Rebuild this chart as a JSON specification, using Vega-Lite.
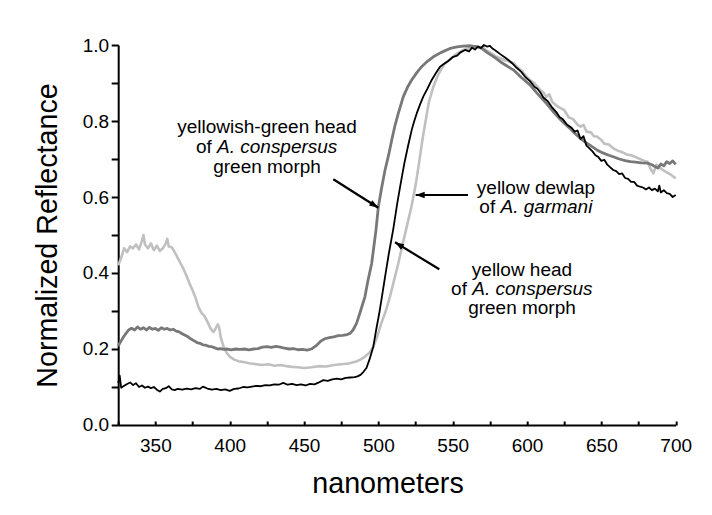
{
  "$schema": "https://vega.github.io/schema/vega-lite/v6.json",
  "width": 557.5,
  "height": 380,
  "autosize": {"type": "none"},
  "padding": {"left": 118.2, "top": 45, "right": 36, "bottom": 90},
  "background": "white",
  "config": {
    "view": {"stroke": null},
    "font": "Liberation Sans",
    "axis": {
      "grid": false,
      "domainColor": "black",
      "domainWidth": 2,
      "tickColor": "black",
      "tickWidth": 2,
      "labelFont": "Liberation Sans",
      "labelFontSize": 19,
      "labelColor": "black",
      "titleFont": "Liberation Sans",
      "titleFontSize": 28.7,
      "titleFontWeight": "normal",
      "titleColor": "black"
    }
  },
  "datasets": {
    "garmani": [
      {"nm":325,"r":0.42},{"nm":327,"r":0.44},{"nm":329,"r":0.465},{"nm":331,"r":0.455},{"nm":333,"r":0.47},{"nm":335,"r":0.465},{"nm":337,"r":0.475},{"nm":339,"r":0.462},{"nm":341,"r":0.485},{"nm":342,"r":0.5},{"nm":343,"r":0.475},{"nm":345,"r":0.465},{"nm":347,"r":0.478},{"nm":349,"r":0.46},{"nm":351,"r":0.472},{"nm":353,"r":0.458},{"nm":355,"r":0.465},{"nm":357,"r":0.478},{"nm":358,"r":0.49},{"nm":359,"r":0.47},{"nm":361,"r":0.468},{"nm":363,"r":0.455},{"nm":365,"r":0.44},{"nm":367,"r":0.425},{"nm":369,"r":0.41},{"nm":371,"r":0.392},{"nm":373,"r":0.372},{"nm":375,"r":0.355},{"nm":377,"r":0.335},{"nm":379,"r":0.31},{"nm":381,"r":0.295},{"nm":383,"r":0.287},{"nm":385,"r":0.272},{"nm":387,"r":0.255},{"nm":389,"r":0.245},{"nm":390,"r":0.25},{"nm":392,"r":0.265},{"nm":393,"r":0.255},{"nm":394,"r":0.23},{"nm":396,"r":0.205},{"nm":398,"r":0.19},{"nm":400,"r":0.18},{"nm":403,"r":0.172},{"nm":406,"r":0.168},{"nm":410,"r":0.165},{"nm":414,"r":0.162},{"nm":418,"r":0.16},{"nm":422,"r":0.158},{"nm":426,"r":0.16},{"nm":430,"r":0.156},{"nm":434,"r":0.158},{"nm":438,"r":0.155},{"nm":442,"r":0.153},{"nm":446,"r":0.152},{"nm":450,"r":0.15},{"nm":455,"r":0.152},{"nm":460,"r":0.155},{"nm":465,"r":0.154},{"nm":470,"r":0.158},{"nm":475,"r":0.16},{"nm":480,"r":0.162},{"nm":485,"r":0.167},{"nm":488,"r":0.172},{"nm":491,"r":0.18},{"nm":494,"r":0.19},{"nm":496.6,"r":0.206},{"nm":499,"r":0.23},{"nm":502,"r":0.268},{"nm":505,"r":0.3},{"nm":507.8,"r":0.338},{"nm":510.5,"r":0.38},{"nm":513.4,"r":0.425},{"nm":516,"r":0.47},{"nm":519,"r":0.52},{"nm":522,"r":0.57},{"nm":525,"r":0.63},{"nm":527,"r":0.68},{"nm":530,"r":0.76},{"nm":534,"r":0.85},{"nm":537,"r":0.89},{"nm":540,"r":0.92},{"nm":544,"r":0.948},{"nm":548,"r":0.962},{"nm":552,"r":0.975},{"nm":557,"r":0.987},{"nm":562,"r":0.993},{"nm":566,"r":0.996},{"nm":570,"r":0.994},{"nm":573,"r":0.985},{"nm":576,"r":0.978},{"nm":579,"r":0.97},{"nm":582,"r":0.965},{"nm":585,"r":0.96},{"nm":588,"r":0.957},{"nm":591,"r":0.952},{"nm":594,"r":0.94},{"nm":597,"r":0.93},{"nm":600,"r":0.915},{"nm":602,"r":0.908},{"nm":605,"r":0.9},{"nm":608,"r":0.885},{"nm":611,"r":0.875},{"nm":613,"r":0.864},{"nm":615,"r":0.87},{"nm":617,"r":0.85},{"nm":620,"r":0.84},{"nm":622,"r":0.835},{"nm":625,"r":0.829},{"nm":628,"r":0.81},{"nm":631,"r":0.805},{"nm":634,"r":0.79},{"nm":636,"r":0.785},{"nm":638,"r":0.79},{"nm":640,"r":0.772},{"nm":643,"r":0.77},{"nm":645,"r":0.76},{"nm":647,"r":0.759},{"nm":650,"r":0.75},{"nm":652,"r":0.74},{"nm":655,"r":0.738},{"nm":658,"r":0.728},{"nm":661,"r":0.722},{"nm":664,"r":0.718},{"nm":667,"r":0.712},{"nm":670,"r":0.71},{"nm":673,"r":0.705},{"nm":676,"r":0.7},{"nm":679,"r":0.695},{"nm":681,"r":0.693},{"nm":683,"r":0.675},{"nm":685,"r":0.662},{"nm":687,"r":0.685},{"nm":689,"r":0.678},{"nm":691,"r":0.672},{"nm":694,"r":0.665},{"nm":697,"r":0.658},{"nm":700,"r":0.649}
    ],
    "ygHead": [
      {"nm":325,"r":0.208},{"nm":326,"r":0.215},{"nm":328,"r":0.228},{"nm":330,"r":0.24},{"nm":332,"r":0.25},{"nm":334,"r":0.255},{"nm":336,"r":0.25},{"nm":338,"r":0.258},{"nm":340,"r":0.252},{"nm":342,"r":0.256},{"nm":344,"r":0.25},{"nm":346,"r":0.257},{"nm":348,"r":0.252},{"nm":350,"r":0.254},{"nm":352,"r":0.249},{"nm":354,"r":0.256},{"nm":356,"r":0.252},{"nm":358,"r":0.254},{"nm":360,"r":0.25},{"nm":362,"r":0.252},{"nm":364,"r":0.247},{"nm":366,"r":0.245},{"nm":368,"r":0.24},{"nm":370,"r":0.236},{"nm":372,"r":0.232},{"nm":374,"r":0.226},{"nm":376,"r":0.222},{"nm":378,"r":0.217},{"nm":380,"r":0.215},{"nm":382,"r":0.211},{"nm":384,"r":0.21},{"nm":386,"r":0.207},{"nm":388,"r":0.206},{"nm":390,"r":0.203},{"nm":392,"r":0.2},{"nm":394,"r":0.201},{"nm":396,"r":0.199},{"nm":398,"r":0.2},{"nm":401,"r":0.198},{"nm":404,"r":0.2},{"nm":407,"r":0.199},{"nm":410,"r":0.2},{"nm":413,"r":0.198},{"nm":416,"r":0.2},{"nm":419,"r":0.201},{"nm":422,"r":0.205},{"nm":425,"r":0.206},{"nm":428,"r":0.204},{"nm":431,"r":0.207},{"nm":434,"r":0.205},{"nm":437,"r":0.202},{"nm":440,"r":0.2},{"nm":443,"r":0.201},{"nm":446,"r":0.198},{"nm":449,"r":0.199},{"nm":452,"r":0.197},{"nm":455,"r":0.2},{"nm":458,"r":0.208},{"nm":461,"r":0.22},{"nm":464,"r":0.227},{"nm":467,"r":0.23},{"nm":470,"r":0.232},{"nm":473,"r":0.235},{"nm":476,"r":0.236},{"nm":479,"r":0.238},{"nm":481,"r":0.241},{"nm":483,"r":0.25},{"nm":485.4,"r":0.268},{"nm":488,"r":0.3},{"nm":491,"r":0.338},{"nm":493,"r":0.38},{"nm":495.5,"r":0.425},{"nm":498.4,"r":0.513},{"nm":500,"r":0.574},{"nm":502,"r":0.62},{"nm":504.5,"r":0.671},{"nm":507,"r":0.712},{"nm":509,"r":0.75},{"nm":511,"r":0.785},{"nm":513.4,"r":0.82},{"nm":516.8,"r":0.864},{"nm":519.5,"r":0.888},{"nm":522.4,"r":0.908},{"nm":526,"r":0.928},{"nm":529.1,"r":0.943},{"nm":533,"r":0.957},{"nm":537,"r":0.969},{"nm":542,"r":0.98},{"nm":548.2,"r":0.991},{"nm":553,"r":0.995},{"nm":557,"r":0.997},{"nm":562,"r":0.998},{"nm":566,"r":0.996},{"nm":570,"r":0.99},{"nm":574,"r":0.978},{"nm":578,"r":0.968},{"nm":582,"r":0.956},{"nm":586,"r":0.946},{"nm":591,"r":0.934},{"nm":596,"r":0.915},{"nm":602,"r":0.895},{"nm":607,"r":0.872},{"nm":611,"r":0.855},{"nm":614,"r":0.842},{"nm":618,"r":0.823},{"nm":622,"r":0.806},{"nm":625,"r":0.794},{"nm":629,"r":0.78},{"nm":632,"r":0.768},{"nm":636,"r":0.754},{"nm":640,"r":0.742},{"nm":644,"r":0.732},{"nm":647,"r":0.724},{"nm":651,"r":0.716},{"nm":655,"r":0.71},{"nm":658,"r":0.706},{"nm":662,"r":0.7},{"nm":666,"r":0.696},{"nm":669.5,"r":0.693},{"nm":673,"r":0.692},{"nm":677,"r":0.69},{"nm":681,"r":0.689},{"nm":684,"r":0.685},{"nm":686,"r":0.68},{"nm":688,"r":0.676},{"nm":690,"r":0.687},{"nm":692,"r":0.682},{"nm":694,"r":0.693},{"nm":696,"r":0.688},{"nm":698,"r":0.695},{"nm":700,"r":0.686}
    ],
    "yHead": [
      {"nm":325,"r":0.11},{"nm":326,"r":0.13},{"nm":327,"r":0.098},{"nm":329,"r":0.103},{"nm":331,"r":0.108},{"nm":333,"r":0.112},{"nm":335,"r":0.105},{"nm":337,"r":0.11},{"nm":339,"r":0.1},{"nm":341,"r":0.104},{"nm":343,"r":0.098},{"nm":345,"r":0.101},{"nm":347,"r":0.097},{"nm":349,"r":0.1},{"nm":351,"r":0.093},{"nm":353,"r":0.088},{"nm":355,"r":0.095},{"nm":357,"r":0.097},{"nm":359,"r":0.102},{"nm":361,"r":0.094},{"nm":363,"r":0.092},{"nm":365,"r":0.095},{"nm":368,"r":0.093},{"nm":371,"r":0.096},{"nm":374,"r":0.094},{"nm":377,"r":0.097},{"nm":380,"r":0.095},{"nm":382,"r":0.101},{"nm":385,"r":0.096},{"nm":388,"r":0.093},{"nm":391,"r":0.095},{"nm":394,"r":0.092},{"nm":397,"r":0.094},{"nm":400,"r":0.09},{"nm":403,"r":0.095},{"nm":406,"r":0.096},{"nm":409,"r":0.1},{"nm":412,"r":0.099},{"nm":415,"r":0.101},{"nm":418,"r":0.103},{"nm":421,"r":0.102},{"nm":424,"r":0.105},{"nm":427,"r":0.104},{"nm":430,"r":0.107},{"nm":433,"r":0.106},{"nm":436,"r":0.111},{"nm":439,"r":0.106},{"nm":442,"r":0.108},{"nm":445,"r":0.105},{"nm":448,"r":0.107},{"nm":451,"r":0.104},{"nm":454,"r":0.108},{"nm":457,"r":0.107},{"nm":460,"r":0.112},{"nm":463,"r":0.118},{"nm":466,"r":0.116},{"nm":469,"r":0.12},{"nm":472,"r":0.122},{"nm":475,"r":0.12},{"nm":478,"r":0.124},{"nm":481,"r":0.125},{"nm":484,"r":0.126},{"nm":486,"r":0.128},{"nm":488,"r":0.132},{"nm":490,"r":0.14},{"nm":492,"r":0.15},{"nm":494,"r":0.172},{"nm":496.6,"r":0.206},{"nm":498.5,"r":0.25},{"nm":500.6,"r":0.294},{"nm":502.5,"r":0.34},{"nm":504.5,"r":0.39},{"nm":507,"r":0.45},{"nm":510,"r":0.515},{"nm":512.7,"r":0.583},{"nm":515,"r":0.635},{"nm":517.5,"r":0.689},{"nm":520,"r":0.735},{"nm":522.4,"r":0.776},{"nm":524,"r":0.798},{"nm":525.8,"r":0.82},{"nm":528,"r":0.843},{"nm":530.2,"r":0.864},{"nm":533,"r":0.885},{"nm":535.9,"r":0.908},{"nm":538.5,"r":0.925},{"nm":541.5,"r":0.943},{"nm":544,"r":0.95},{"nm":547,"r":0.958},{"nm":550.4,"r":0.969},{"nm":553,"r":0.972},{"nm":555,"r":0.98},{"nm":558.3,"r":0.987},{"nm":561,"r":0.983},{"nm":563,"r":0.993},{"nm":565,"r":0.988},{"nm":567,"r":0.996},{"nm":569,"r":0.992},{"nm":571,"r":1.0},{"nm":573,"r":0.996},{"nm":575,"r":0.998},{"nm":577,"r":0.99},{"nm":579,"r":0.985},{"nm":582,"r":0.976},{"nm":585,"r":0.968},{"nm":587,"r":0.962},{"nm":590,"r":0.952},{"nm":593,"r":0.94},{"nm":596,"r":0.93},{"nm":599,"r":0.915},{"nm":602,"r":0.905},{"nm":605,"r":0.89},{"nm":607,"r":0.885},{"nm":609,"r":0.875},{"nm":611,"r":0.862},{"nm":614,"r":0.852},{"nm":617,"r":0.835},{"nm":620,"r":0.822},{"nm":622,"r":0.81},{"nm":624,"r":0.805},{"nm":627,"r":0.79},{"nm":630,"r":0.782},{"nm":632,"r":0.772},{"nm":634,"r":0.775},{"nm":636,"r":0.752},{"nm":638,"r":0.76},{"nm":640,"r":0.735},{"nm":642,"r":0.728},{"nm":644,"r":0.72},{"nm":646,"r":0.71},{"nm":648,"r":0.705},{"nm":650,"r":0.695},{"nm":652,"r":0.698},{"nm":654,"r":0.685},{"nm":656,"r":0.678},{"nm":658,"r":0.671},{"nm":660,"r":0.668},{"nm":662,"r":0.66},{"nm":664,"r":0.662},{"nm":666,"r":0.65},{"nm":668,"r":0.648},{"nm":670,"r":0.64},{"nm":672,"r":0.64},{"nm":674,"r":0.63},{"nm":676,"r":0.627},{"nm":678,"r":0.625},{"nm":680,"r":0.62},{"nm":682,"r":0.625},{"nm":684,"r":0.618},{"nm":686,"r":0.622},{"nm":688,"r":0.615},{"nm":689,"r":0.63},{"nm":690,"r":0.612},{"nm":692,"r":0.618},{"nm":694,"r":0.61},{"nm":696,"r":0.608},{"nm":698,"r":0.6},{"nm":700,"r":0.605}
    ],
    "labelsCenter": [
      {"nm":425.1,"r":0.7684,"text":"yellowish-green head"},
      {"nm":425.1,"r":0.6632,"text":"green morph"},
      {"nm":606.0,"r":0.6071,"text":"yellow dewlap"},
      {"nm":596.6,"r":0.392,"text":"yellow head"},
      {"nm":596.6,"r":0.292,"text":"green morph"}
    ],
    "labelsOf": [
      {"nm":388.0,"r":0.7158,"text":"of"},
      {"nm":578.6,"r":0.557,"text":"of"},
      {"nm":559.6,"r":0.342,"text":"of"}
    ],
    "labelsItalic": [
      {"nm":391.5,"r":0.7158,"text":"A. conspersus"},
      {"nm":582.2,"r":0.557,"text":"A. garmani"},
      {"nm":563.2,"r":0.342,"text":"A. conspersus"}
    ],
    "arrows": [
      {"nm":499.95,"r":0.5718,"nm2":469.7,"r2":0.6466,"ang":122.3},
      {"nm":525.1,"r":0.6053,"nm2":560.3,"r2":0.6053,"ang":270},
      {"nm":511.2,"r":0.4808,"nm2":541.0,"r2":0.4097,"ang":301.4}
    ]
  },
  "encoding": {
    "x": {
      "field": "nm",
      "type": "quantitative",
      "scale": {"domain": [325, 700], "nice": false, "zero": false},
      "axis": {
        "title": "nanometers",
        "values": [325, 350, 375, 400, 425, 450, 475, 500, 525, 550, 575, 600, 625, 650, 675, 700],
        "labelExpr": "datum.value % 50 == 0 ? datum.label : ''",
        "format": "d",
        "tickSize": -4,
        "labelPadding": 15.5,
        "labelFlush": false,
        "labelOverlap": false,
        "titleX": 269.3,
        "titleY": 68,
        "titleAlign": "center",
        "titleBaseline": "alphabetic"
      }
    },
    "y": {
      "field": "r",
      "type": "quantitative",
      "scale": {"domain": [0, 1], "nice": false, "zero": true},
      "axis": {
        "title": "Normalized Reflectance",
        "values": [0, 0.1, 0.2, 0.3, 0.4, 0.5, 0.6, 0.7, 0.8, 0.9, 1.0],
        "labelExpr": "round(datum.value * 10) % 2 == 0 ? format(datum.value, '.1f') : ''",
        "tickSize": 7,
        "labelPadding": 2.5,
        "labelOverlap": false,
        "titleX": -61.5,
        "titleY": 190,
        "titleAngle": 270,
        "titleAlign": "center",
        "titleBaseline": "alphabetic"
      }
    }
  },
  "layer": [
    {
      "data": {"name": "garmani"},
      "mark": {"type": "line", "color": "#c0c0c0", "strokeWidth": 2.6, "strokeJoin": "round"}
    },
    {
      "data": {"name": "ygHead"},
      "mark": {"type": "line", "color": "#787878", "strokeWidth": 2.8, "strokeJoin": "round"}
    },
    {
      "data": {"name": "yHead"},
      "mark": {"type": "line", "color": "#000000", "strokeWidth": 1.8, "strokeJoin": "round"}
    },
    {
      "data": {"name": "arrows"},
      "mark": {"type": "rule", "color": "black", "strokeWidth": 2.2},
      "encoding": {
        "x2": {"field": "nm2"},
        "y2": {"field": "r2"}
      }
    },
    {
      "data": {"name": "arrows"},
      "mark": {"type": "point", "shape": "M0,0L-0.35,1L0.35,1Z", "filled": true, "color": "black", "opacity": 1, "size": 324, "strokeWidth": 0},
      "encoding": {
        "angle": {"field": "ang", "type": "quantitative", "scale": null}
      }
    },
    {
      "data": {"name": "labelsCenter"},
      "mark": {"type": "text", "align": "center", "baseline": "alphabetic", "fontSize": 19, "color": "black", "font": "Liberation Sans"},
      "encoding": {"text": {"field": "text"}}
    },
    {
      "data": {"name": "labelsOf"},
      "mark": {"type": "text", "align": "right", "baseline": "alphabetic", "fontSize": 19, "color": "black", "font": "Liberation Sans"},
      "encoding": {"text": {"field": "text"}}
    },
    {
      "data": {"name": "labelsItalic"},
      "mark": {"type": "text", "align": "left", "baseline": "alphabetic", "fontSize": 19, "fontStyle": "italic", "color": "black", "font": "Liberation Sans"},
      "encoding": {"text": {"field": "text"}}
    }
  ]
}
